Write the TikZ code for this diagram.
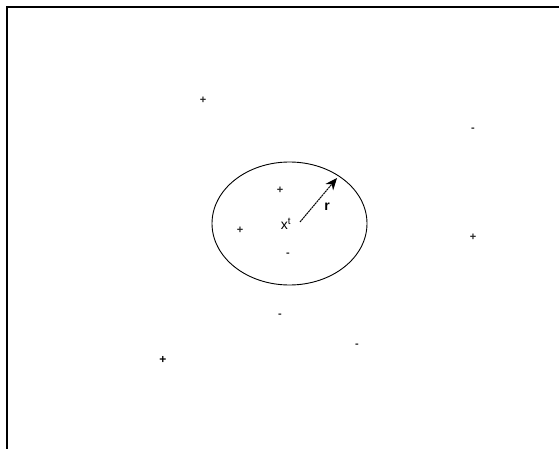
\documentclass[tikz,border=0pt]{standalone}
\usepackage{fontspec}
\setmainfont{Liberation Sans}
\usetikzlibrary{arrows.meta,shapes.geometric}
\begin{document}
\begin{tikzpicture}[x=1pt,y=-1pt,
  sign/.style={inner sep=0pt,text=black!85,font=\fontsize{11}{11}\selectfont\bfseries},
  lbl/.style={inner sep=0pt,font=\fontsize{14}{14}\selectfont}]
\useasboundingbox (0,0) rectangle (559,449);
\fill[white] (0,0) rectangle (559,449);
\coordinate (tl) at (7,7);
\coordinate (tr) at (558.5,7);
\coordinate (bl) at (7,449);
\draw[line width=1.6pt] (tr) -- (tl) -- (bl);
\node[draw,line width=0.9pt,ellipse,minimum width=155pt,minimum height=123pt,inner sep=0pt] (circ) at (289.5,223.5) {};
\node[lbl] (x) at (286,224) {x$^{\mathrm{t}}$};
\coordinate (c) at (300,222);
\coordinate (tip) at (337,178);
\draw[line width=1pt,dash pattern=on 2pt off 0.6pt,-{Stealth[length=12pt,width=10pt]}] (c) -- (tip);
\node[lbl,font=\fontsize{14}{14}\selectfont\bfseries] (r) at (327,207) {r};
\node[sign] (p1) at (203,100) {+};
\node[sign] (p2) at (280,190) {+};
\node[sign] (p3) at (240,230) {+};
\node[sign] (p4) at (473,237) {+};
\node[sign,text=black,font=\fontsize{12}{12}\selectfont\bfseries] (p5) at (163,360) {+};
\node[sign] (m1) at (473,130) {-};
\node[sign] (m2) at (288,255) {-};
\node[sign] (m3) at (280,316) {-};
\node[sign] (m4) at (357,346) {-};
\end{tikzpicture}
\end{document}
